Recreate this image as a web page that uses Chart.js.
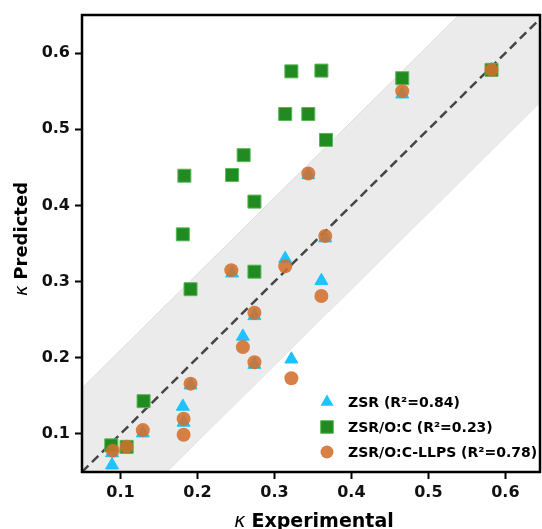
<!DOCTYPE html>
<html>
<head>
<meta charset="utf-8">
<title>kappa predicted vs experimental</title>
<script src="https://cdn.jsdelivr.net/npm/chart.js"></script>
<style>
  html, body { margin: 0; padding: 0; background: #fff; }
  #kappaChart { display: block; }
</style>
</head>
<body>
<canvas id="kappaChart" width="542" height="529"></canvas>
<script>
// ---- data ----
const zsrX  = [0.089, 0.089, 0.108, 0.129, 0.181, 0.182, 0.191, 0.245, 0.259, 0.274, 0.274, 0.314, 0.322, 0.344, 0.361, 0.366, 0.466, 0.582];
const zsrY  = [0.059, 0.075, 0.082, 0.101, 0.136, 0.115, 0.164, 0.311, 0.228, 0.255, 0.191, 0.330, 0.198, 0.440, 0.301, 0.357, 0.546, 0.578];

const ocX   = [0.088, 0.108, 0.130, 0.181, 0.183, 0.191, 0.245, 0.260, 0.274, 0.274, 0.314, 0.322, 0.344, 0.361, 0.367, 0.466, 0.582];
const ocY   = [0.085, 0.083, 0.143, 0.362, 0.439, 0.290, 0.440, 0.466, 0.405, 0.313, 0.520, 0.576, 0.520, 0.577, 0.486, 0.567, 0.578];

const llpsX = [0.090, 0.108, 0.129, 0.182, 0.182, 0.191, 0.244, 0.259, 0.274, 0.274, 0.314, 0.322, 0.344, 0.361, 0.366, 0.466, 0.582];
const llpsY = [0.078, 0.083, 0.105, 0.120, 0.099, 0.166, 0.315, 0.214, 0.259, 0.194, 0.320, 0.173, 0.442, 0.281, 0.360, 0.550, 0.578];

// 1:1 line and the shaded band around it
const diagX = [0.05, 0.65];
const diagY = [0.05, 0.65];
const bandX = [0.05, 0.65];
const bandUpper = [0.16, 0.76];
const bandLower = [-0.06, 0.54];

const xTickVals = [0.1, 0.2, 0.3, 0.4, 0.5, 0.6];
const yTickVals = [0.1, 0.2, 0.3, 0.4, 0.5, 0.6];

const seriesLabels = ["ZSR (R\u00B2=0.84)", "ZSR/O:C (R\u00B2=0.23)", "ZSR/O:C-LLPS (R\u00B2=0.78)"];
const xTitle = ["\u03BA", "Experimental"];
const yTitle = ["\u03BA", "Predicted"];

// ---- styles ----
const FONT = "DejaVu Sans";
const CYAN = "#1cc3ff";
const GREEN = "#218b21";
const GREEN_EDGE = "#58b858";
const ORANGE = "rgba(210,112,45,0.88)";

function pts(xs, ys) {
    return xs.map((x, i) => ({ x: x, y: ys[i] }));
}

// marker shapes for the legend, same geometry as the chart points
function marker(ctx, kind, x, y) {
    ctx.beginPath();
    if (kind === "triangle") {
        const r = 7.5;
        ctx.moveTo(x, y - r);
        ctx.lineTo(x + 0.866 * r, y + 0.5 * r);
        ctx.lineTo(x - 0.866 * r, y + 0.5 * r);
        ctx.closePath();
        ctx.fillStyle = CYAN;
        ctx.fill();
    } else if (kind === "rect") {
        const s = 6.3;
        ctx.rect(x - s, y - s, 2 * s, 2 * s);
        ctx.fillStyle = GREEN;
        ctx.fill();
        ctx.lineWidth = 1;
        ctx.strokeStyle = GREEN_EDGE;
        ctx.stroke();
    } else {
        ctx.arc(x, y, 6.5, 0, Math.PI * 2);
        ctx.fillStyle = ORANGE;
        ctx.fill();
    }
}

// title made of an italic kappa and a bold word
function mixedTitle(ctx, parts, size) {
    const f1 = "italic " + size + "px " + FONT;
    const f2 = "bold " + size + "px " + FONT;
    ctx.font = f1;
    const w1 = ctx.measureText(parts[0] + " ").width;
    ctx.font = f2;
    const w2 = ctx.measureText(parts[1]).width;
    let x = -(w1 + w2) / 2;
    ctx.textAlign = "left";
    ctx.textBaseline = "alphabetic";
    ctx.fillStyle = "#000";
    ctx.font = f1;
    ctx.fillText(parts[0], x, 0);
    ctx.font = f2;
    ctx.fillText(parts[1], x + w1, 0);
}

const decorPlugin = {
    id: "decor",
    afterDatasetsDraw(chart) {
        const { ctx, chartArea: a } = chart;
        ctx.save();
        ctx.strokeStyle = "#000";
        ctx.lineWidth = 2.5;
        ctx.strokeRect(a.left, a.top, a.right - a.left, a.bottom - a.top);
        ctx.restore();
    },
    afterDraw(chart) {
        const { ctx } = chart;

        // legend, lower right inside the axes
        const kinds = ["triangle", "rect", "circle"];
        ctx.save();
        kinds.forEach((k, i) => {
            const y = 402 + i * 25;
            marker(ctx, k, 327, y);
            ctx.fillStyle = "#000";
            ctx.font = "bold 14px " + FONT;
            ctx.textAlign = "left";
            ctx.textBaseline = "middle";
            ctx.fillText(seriesLabels[i], 348, y + 1);
        });
        ctx.restore();

        // x title
        ctx.save();
        ctx.translate(314, 527);
        mixedTitle(ctx, xTitle, 19);
        ctx.restore();

        // y title
        ctx.save();
        ctx.translate(26.5, 239);
        ctx.rotate(-Math.PI / 2);
        mixedTitle(ctx, yTitle, 18);
        ctx.restore();
    }
};

const tickFont = { family: FONT, size: 16, weight: "bold" };

new Chart(document.getElementById("kappaChart"), {
    type: "scatter",
    data: {
        datasets: [
            {
                label: seriesLabels[2],
                data: pts(llpsX, llpsY),
                pointStyle: "circle",
                pointRadius: 7,
                pointHoverRadius: 7,
                backgroundColor: ORANGE,
                borderColor: ORANGE,
                borderWidth: 0,
                order: 1
            },
            {
                label: seriesLabels[1],
                data: pts(ocX, ocY),
                pointStyle: "rect",
                pointRadius: 9.2,
                pointHoverRadius: 9.2,
                backgroundColor: GREEN,
                borderColor: GREEN_EDGE,
                borderWidth: 1,
                order: 2
            },
            {
                label: seriesLabels[0],
                data: pts(zsrX, zsrY),
                pointStyle: "triangle",
                pointRadius: 7.5,
                pointHoverRadius: 7.5,
                backgroundColor: CYAN,
                borderColor: CYAN,
                borderWidth: 1,
                order: 3
            },
            {
                type: "line",
                label: "1:1",
                data: pts(diagX, diagY),
                borderColor: "rgba(40,40,40,0.85)",
                borderWidth: 2.5,
                borderDash: [9, 5],
                pointRadius: 0,
                fill: false,
                order: 4
            },
            {
                type: "line",
                label: "upper",
                data: pts(bandX, bandUpper),
                borderColor: "#dddddd",
                borderWidth: 1,
                backgroundColor: "#ebebeb",
                pointRadius: 0,
                fill: "+1",
                order: 5
            },
            {
                type: "line",
                label: "lower",
                data: pts(bandX, bandLower),
                borderColor: "#dddddd",
                borderWidth: 1,
                pointRadius: 0,
                fill: false,
                order: 6
            }
        ]
    },
    options: {
        responsive: false,
        animation: false,
        events: [],
        layout: { autoPadding: false, padding: { top: 15, right: 2, left: 0, bottom: 0 } },
        plugins: {
            legend: { display: false },
            tooltip: { enabled: false }
        },
        scales: {
            x: {
                type: "linear",
                min: 0.05,
                max: 0.645,
                afterFit: s => { s.height = 57; s.paddingLeft = 0; s.paddingRight = 0; },
                afterBuildTicks: s => { s.ticks = xTickVals.map(v => ({ value: v })); },
                border: { display: false },
                grid: { drawOnChartArea: false, drawTicks: true, tickLength: 7, tickWidth: 2, tickColor: "#000" },
                ticks: { color: "#111", font: tickFont, padding: 4, maxRotation: 0, autoSkip: false, callback: v => v.toFixed(1) }
            },
            y: {
                type: "linear",
                min: 0.05,
                max: 0.65,
                afterFit: s => { s.width = 82; s.paddingTop = 0; s.paddingBottom = 0; },
                afterBuildTicks: s => { s.ticks = yTickVals.map(v => ({ value: v })); },
                border: { display: false },
                grid: { drawOnChartArea: false, drawTicks: true, tickLength: 7, tickWidth: 2, tickColor: "#000" },
                ticks: { color: "#111", font: tickFont, padding: 5, autoSkip: false, callback: v => v.toFixed(1) }
            }
        }
    },
    plugins: [decorPlugin]
});
</script>
</body>
</html>
